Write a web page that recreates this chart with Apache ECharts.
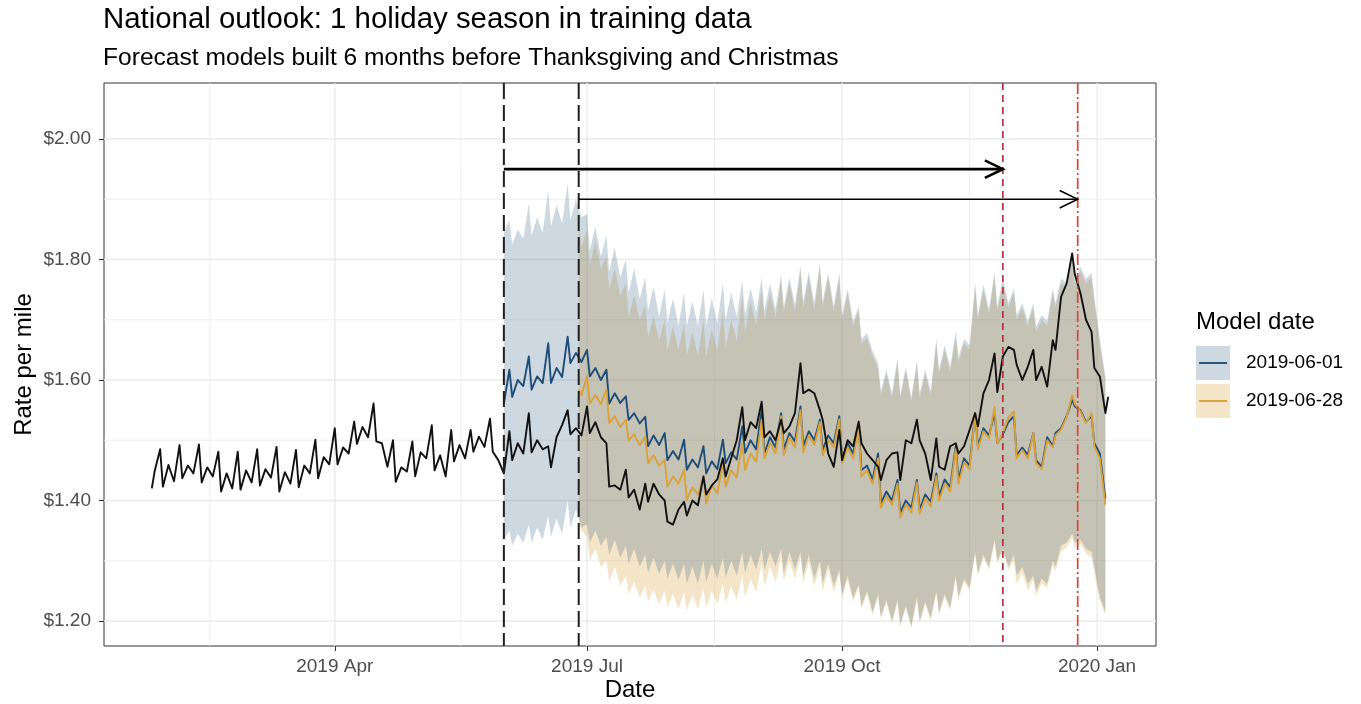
<!DOCTYPE html>
<html>
<head>
<meta charset="utf-8">
<title>National outlook</title>
<script src="https://cdn.jsdelivr.net/npm/echarts@6/dist/echarts.min.js"></script>
<style>
  html, body { margin: 0; padding: 0; background: #ffffff; }
  #chart { width: 1361px; height: 704px; }
</style>
</head>
<body>
<div id="chart"></div>
<script>
// ---------- axis breaks and labels ----------
const xBreaks = ['2019-04-01', '2019-07-01', '2019-10-01', '2020-01-01'];
const xBreakLabels = ['2019 Apr', '2019 Jul', '2019 Oct', '2020 Jan'];
const xMinorBreaks = ['2019-02-15', '2019-05-16T12:00', '2019-08-16', '2019-11-16'];
const yBreaks = [1.2, 1.4, 1.6, 1.8, 2.0];
const yBreakLabels = ['$1.20', '$1.40', '$1.60', '$1.80', '$2.00'];
const yMinorBreaks = [1.3, 1.5, 1.7, 1.9];

// ---------- reference events ----------
const modelDates = ['2019-06-01', '2019-06-28'];       // forecast model build dates
const holidayDates = ['2019-11-28', '2019-12-25'];     // Thanksgiving, Christmas
const arrowLevels = [1.95, 1.90];                      // rate level of each horizon arrow
const seriesNames = ['2019-06-01', '2019-06-28'];

// ---------- actual national rate ----------
// weekly rows starting Monday 2019-01-28: [Mon, Tue, Thu, Sat]
const actualLead = [['2019-01-25', 1.420], ['2019-01-26', 1.448]];
const actualRows = [
  [1.485, 1.423, 1.459, 1.432], [1.492, 1.437, 1.458, 1.445], [1.493, 1.430, 1.455, 1.440],
  [1.481, 1.415, 1.445, 1.420], [1.481, 1.418, 1.450, 1.430], [1.485, 1.425, 1.452, 1.438],
  [1.489, 1.415, 1.447, 1.428], [1.484, 1.422, 1.458, 1.445], [1.501, 1.437, 1.472, 1.460],
  [1.520, 1.460, 1.488, 1.478], [1.531, 1.494, 1.522, 1.505], [1.561, 1.498, 1.495, 1.456],
  [1.500, 1.431, 1.455, 1.448], [1.498, 1.440, 1.480, 1.470], [1.525, 1.450, 1.475, 1.440],
  [1.517, 1.465, 1.492, 1.470], [1.517, 1.481, 1.506, 1.489], [1.536, 1.481, 1.467, 1.445],
  [1.515, 1.467, 1.495, 1.478], [1.545, 1.480, 1.500, 1.485], [1.490, 1.455, 1.505, 1.525],
  [1.550, 1.510, 1.520, 1.508], [1.556, 1.512, 1.530, 1.505], [1.495, 1.423, 1.425, 1.418],
  [1.451, 1.405, 1.418, 1.385], [1.428, 1.398, 1.428, 1.410], [1.400, 1.365, 1.360, 1.385],
  [1.398, 1.375, 1.400, 1.392], [1.440, 1.410, 1.425, 1.435], [1.470, 1.440, 1.470, 1.500],
  [1.555, 1.500, 1.530, 1.520], [1.564, 1.505, 1.515, 1.500], [1.534, 1.512, 1.523, 1.545],
  [1.628, 1.578, 1.584, 1.578], [1.550, 1.534, 1.478, 1.456], [1.517, 1.467, 1.500, 1.490],
  [1.531, 1.495, 1.478, 1.467], [1.456, 1.434, 1.467, 1.478], [1.480, 1.434, 1.500, 1.495],
  [1.534, 1.500, 1.478, 1.434], [1.503, 1.456, 1.451, 1.490], [1.495, 1.478, 1.490, 1.517],
  [1.545, 1.523, 1.578, 1.600], [1.644, 1.580, 1.639, 1.655], [1.650, 1.625, 1.600, 1.622],
  [1.650, 1.600, 1.622, 1.589], [1.666, 1.650, 1.738, 1.760], [1.810, 1.775, 1.744, 1.700],
  [1.680, 1.620, 1.606, 1.545]
];
const actualTail = [['2020-01-05', 1.572]];

// ---------- forecast built 2019-06-01 ----------
// weekly rows starting Monday 2019-06-03: [Mon, Tue, Thu, Sat]
const fcJunLead = [['2019-06-01', 1.561]];
const fcJunRows = [
  [1.617, 1.572, 1.600, 1.590], [1.639, 1.584, 1.606, 1.595], [1.661, 1.595, 1.620, 1.605],
  [1.672, 1.628, 1.645, 1.630], [1.650, 1.606, 1.620, 1.600], [1.617, 1.561, 1.578, 1.562],
  [1.573, 1.534, 1.545, 1.528], [1.539, 1.490, 1.508, 1.492], [1.512, 1.467, 1.482, 1.468],
  [1.501, 1.451, 1.468, 1.455], [1.490, 1.445, 1.465, 1.452], [1.501, 1.462, 1.480, 1.468],
  [1.523, 1.479, 1.500, 1.485], [1.550, 1.478, 1.505, 1.488], [1.545, 1.485, 1.512, 1.498],
  [1.556, 1.490, 1.515, 1.500], [1.534, 1.484, 1.508, 1.495], [1.540, 1.470, 1.495, 1.478],
  [1.523, 1.450, 1.458, 1.435], [1.478, 1.395, 1.415, 1.400], [1.434, 1.380, 1.400, 1.388],
  [1.434, 1.385, 1.410, 1.398], [1.445, 1.407, 1.435, 1.422], [1.490, 1.435, 1.470, 1.458],
  [1.545, 1.490, 1.520, 1.508], [1.545, 1.495, 1.510, 1.530], [1.540, 1.475, 1.488, 1.476],
  [1.512, 1.467, 1.456, 1.505], [1.490, 1.512, 1.520, 1.540], [1.567, 1.556, 1.550, 1.530],
  [1.540, 1.495, 1.478, 1.403]
];
const upJunLead = [['2019-06-01', 1.845]];
const upJunRows = [
  [1.865, 1.825, 1.850, 1.835], [1.893, 1.840, 1.870, 1.845], [1.915, 1.855, 1.890, 1.860],
  [1.926, 1.865, 1.900, 1.870], [1.875, 1.815, 1.855, 1.805], [1.840, 1.780, 1.820, 1.770],
  [1.800, 1.745, 1.785, 1.735], [1.770, 1.715, 1.755, 1.705], [1.750, 1.695, 1.735, 1.690],
  [1.745, 1.690, 1.730, 1.690], [1.750, 1.690, 1.735, 1.695], [1.760, 1.700, 1.745, 1.705],
  [1.765, 1.708, 1.752, 1.712], [1.770, 1.715, 1.760, 1.718], [1.775, 1.722, 1.770, 1.725],
  [1.790, 1.730, 1.780, 1.728], [1.795, 1.730, 1.778, 1.722], [1.778, 1.708, 1.752, 1.698],
  [1.722, 1.668, 1.678, 1.648], [1.628, 1.582, 1.618, 1.578], [1.636, 1.576, 1.622, 1.572],
  [1.632, 1.578, 1.618, 1.582], [1.668, 1.618, 1.658, 1.622], [1.680, 1.638, 1.668, 1.658],
  [1.762, 1.708, 1.758, 1.718], [1.778, 1.722, 1.768, 1.728], [1.752, 1.708, 1.728, 1.698],
  [1.728, 1.688, 1.708, 1.698], [1.752, 1.728, 1.768, 1.762], [1.802, 1.768, 1.788, 1.768],
  [1.778, 1.738, 1.668, 1.605]
];
const loJunLead = [['2019-06-01', 1.335]];
const loJunRows = [
  [1.350, 1.325, 1.345, 1.330], [1.360, 1.330, 1.355, 1.335], [1.375, 1.340, 1.370, 1.345],
  [1.400, 1.355, 1.385, 1.355], [1.360, 1.330, 1.350, 1.325], [1.340, 1.310, 1.335, 1.305],
  [1.325, 1.295, 1.320, 1.290], [1.310, 1.280, 1.305, 1.278], [1.300, 1.270, 1.295, 1.268],
  [1.295, 1.262, 1.290, 1.262], [1.300, 1.265, 1.295, 1.270], [1.305, 1.272, 1.300, 1.275],
  [1.315, 1.280, 1.310, 1.285], [1.320, 1.285, 1.315, 1.290], [1.320, 1.280, 1.315, 1.285],
  [1.315, 1.275, 1.310, 1.270], [1.300, 1.262, 1.295, 1.258], [1.285, 1.245, 1.275, 1.238],
  [1.260, 1.225, 1.250, 1.215], [1.245, 1.208, 1.235, 1.200], [1.235, 1.195, 1.225, 1.192],
  [1.240, 1.200, 1.232, 1.205], [1.250, 1.215, 1.245, 1.222], [1.275, 1.240, 1.270, 1.255],
  [1.315, 1.280, 1.310, 1.290], [1.335, 1.300, 1.320, 1.290], [1.310, 1.275, 1.290, 1.262],
  [1.275, 1.250, 1.270, 1.262], [1.300, 1.290, 1.325, 1.330], [1.345, 1.330, 1.335, 1.320],
  [1.315, 1.290, 1.240, 1.215]
];

// ---------- forecast built 2019-06-28 ----------
// weekly rows starting Monday 2019-07-01: [Mon, Tue, Thu, Sat]
const fcLateLead = [['2019-06-28', 1.584], ['2019-06-29', 1.575]];
const fcLateRows = [
  [1.606, 1.561, 1.575, 1.560], [1.584, 1.528, 1.540, 1.522], [1.534, 1.500, 1.510, 1.492],
  [1.506, 1.462, 1.475, 1.458], [1.467, 1.423, 1.440, 1.428], [1.451, 1.401, 1.422, 1.410],
  [1.440, 1.395, 1.425, 1.412], [1.462, 1.423, 1.450, 1.438], [1.495, 1.451, 1.478, 1.465],
  [1.534, 1.470, 1.495, 1.478], [1.540, 1.475, 1.505, 1.488], [1.550, 1.480, 1.508, 1.492],
  [1.530, 1.475, 1.500, 1.488], [1.535, 1.462, 1.488, 1.470], [1.518, 1.440, 1.450, 1.428],
  [1.470, 1.388, 1.408, 1.393], [1.428, 1.372, 1.393, 1.380], [1.430, 1.378, 1.403, 1.390],
  [1.440, 1.400, 1.428, 1.415], [1.485, 1.428, 1.463, 1.452], [1.545, 1.485, 1.515, 1.503],
  [1.555, 1.495, 1.512, 1.538], [1.548, 1.470, 1.484, 1.470], [1.512, 1.462, 1.452, 1.500],
  [1.488, 1.508, 1.518, 1.538], [1.575, 1.560, 1.548, 1.528], [1.545, 1.490, 1.470, 1.393]
];
const upLateLead = [['2019-06-28', 1.860], ['2019-06-29', 1.820]];
const upLateRows = [
  [1.850, 1.790, 1.830, 1.785], [1.805, 1.750, 1.785, 1.740], [1.760, 1.705, 1.740, 1.700],
  [1.725, 1.670, 1.705, 1.665], [1.700, 1.650, 1.690, 1.650], [1.695, 1.640, 1.680, 1.640],
  [1.700, 1.640, 1.685, 1.650], [1.715, 1.655, 1.700, 1.665], [1.740, 1.680, 1.730, 1.690],
  [1.752, 1.700, 1.745, 1.705], [1.765, 1.712, 1.760, 1.715], [1.780, 1.720, 1.770, 1.718],
  [1.788, 1.722, 1.770, 1.715], [1.770, 1.700, 1.745, 1.690], [1.715, 1.660, 1.670, 1.640],
  [1.620, 1.575, 1.610, 1.570], [1.630, 1.570, 1.615, 1.565], [1.625, 1.570, 1.610, 1.575],
  [1.660, 1.610, 1.650, 1.615], [1.672, 1.630, 1.660, 1.650], [1.755, 1.700, 1.750, 1.710],
  [1.770, 1.715, 1.760, 1.720], [1.745, 1.700, 1.720, 1.690], [1.720, 1.680, 1.700, 1.690],
  [1.745, 1.720, 1.760, 1.755], [1.795, 1.760, 1.780, 1.760], [1.770, 1.730, 1.660, 1.600]
];
const loLateLead = [['2019-06-28', 1.360], ['2019-06-29', 1.350]];
const loLateRows = [
  [1.340, 1.300, 1.320, 1.290], [1.300, 1.265, 1.290, 1.258], [1.275, 1.245, 1.265, 1.238],
  [1.258, 1.232, 1.252, 1.228], [1.250, 1.222, 1.245, 1.220], [1.248, 1.218, 1.243, 1.220],
  [1.255, 1.222, 1.250, 1.228], [1.262, 1.230, 1.258, 1.235], [1.275, 1.240, 1.270, 1.248],
  [1.295, 1.258, 1.290, 1.265], [1.305, 1.265, 1.300, 1.270], [1.305, 1.262, 1.298, 1.258],
  [1.290, 1.250, 1.285, 1.248], [1.278, 1.238, 1.268, 1.232], [1.255, 1.220, 1.245, 1.210],
  [1.240, 1.203, 1.230, 1.196], [1.230, 1.190, 1.222, 1.188], [1.235, 1.196, 1.228, 1.200],
  [1.245, 1.210, 1.240, 1.218], [1.270, 1.235, 1.265, 1.250], [1.310, 1.275, 1.305, 1.285],
  [1.330, 1.295, 1.315, 1.285], [1.300, 1.262, 1.280, 1.250], [1.268, 1.242, 1.262, 1.255],
  [1.292, 1.282, 1.315, 1.322], [1.338, 1.322, 1.328, 1.312], [1.305, 1.280, 1.232, 1.210]
];

// ---------- helpers ----------
const DAY = 86400000;
const ts = s => Date.parse(s.length === 10 ? s + 'T00:00:00Z' : s + ':00Z');
const OFFSETS = [0, 1, 3, 5];   // Mon, Tue, Thu, Sat

function weekly(startMonday, rows, lead, tail) {
  const base = ts(startMonday);
  const out = (lead || []).map(([d, v]) => [ts(d), v]);
  rows.forEach((row, w) => row.forEach((v, j) => out.push([base + (7 * w + OFFSETS[j]) * DAY, v])));
  (tail || []).forEach(([d, v]) => out.push([ts(d), v]));
  return out;
}

const actual = weekly('2019-01-28', actualRows, actualLead, actualTail);
const fcJun = weekly('2019-06-03', fcJunRows, fcJunLead);
const upJun = weekly('2019-06-03', upJunRows, upJunLead);
const loJun = weekly('2019-06-03', loJunRows, loJunLead);
const fcLate = weekly('2019-07-01', fcLateRows, fcLateLead);
const upLate = weekly('2019-07-01', upLateRows, upLateLead);
const loLate = weekly('2019-07-01', loLateRows, loLateLead);

const X_MIN = ts('2019-01-07T18:00');
const X_MAX = ts('2020-01-22T06:00');
const Y_MIN = 1.1585;
const Y_MAX = 2.093;
const xBreakTs = xBreaks.map(ts);

const FONT = '"Liberation Sans", Arial, Helvetica, sans-serif';
const BLUE = '#1e4d78';
const GOLD = '#d9a23a';
const BLUE_FILL = 'rgba(30,77,120,0.22)';
const GOLD_FILL = 'rgba(217,162,58,0.28)';
const GRID = '#ebebeb';

// ribbon polygon through the axis scales
function ribbon(name, upper, lower, fill, z) {
  return {
    type: 'custom', name, coordinateSystem: 'cartesian2d', silent: true, z,
    data: [upper[0]],
    renderItem(params, api) {
      const pts = upper.map(p => api.coord(p))
        .concat(lower.slice().reverse().map(p => api.coord(p)));
      return { type: 'polygon', shape: { points: pts }, style: { fill } };
    }
  };
}

function line(name, data, color, z, width) {
  return {
    type: 'line', name, data, z, silent: true, showSymbol: false, symbol: 'none',
    lineStyle: { color, width, join: 'round' }
  };
}

const vlineStyles = [
  { date: modelDates[0], color: '#1f1f1f', width: 2, dash: [16, 6] },
  { date: modelDates[1], color: '#1f1f1f', width: 2, dash: [16, 6] },
  { date: holidayDates[0], color: '#b2323f', width: 1.7, dash: [7, 5] },
  { date: holidayDates[1], color: '#d8453b', width: 1.7, dash: [11, 3, 2, 3] }
];

const option = {
  backgroundColor: '#ffffff',
  animation: false,
  title: {
    text: 'National outlook: 1 holiday season in training data',
    subtext: 'Forecast models built 6 months before Thanksgiving and Christmas',
    left: 103, top: 5, padding: 0, itemGap: 12,
    textStyle: { fontFamily: FONT, fontSize: 29.4, fontWeight: 'normal', color: '#000' },
    subtextStyle: { fontFamily: FONT, fontSize: 24.6, color: '#000' }
  },
  grid: {
    left: 104, top: 83, width: 1052, height: 563,
    show: true, backgroundColor: '#ffffff', borderColor: '#333333', borderWidth: 1
  },
  xAxis: {
    type: 'value', min: X_MIN, max: X_MAX, scale: true,
    axisLine: { show: false },
    splitLine: { show: false },
    axisTick: { show: true, length: 5, lineStyle: { color: '#333333', width: 1 },
      customValues: xBreakTs },
    axisLabel: {
      customValues: xBreakTs, margin: 11, color: '#4d4d4d',
      fontFamily: FONT, fontSize: 19, showMinLabel: true, showMaxLabel: true,
      formatter: v => xBreakLabels[xBreakTs.indexOf(v)] || ''
    }
  },
  yAxis: {
    type: 'value', min: Y_MIN, max: Y_MAX,
    axisLine: { show: false },
    splitLine: { show: false },
    axisTick: { show: true, length: 5, lineStyle: { color: '#333333', width: 1 },
      customValues: yBreaks },
    axisLabel: {
      customValues: yBreaks, margin: 13, color: '#4d4d4d',
      fontFamily: FONT, fontSize: 19,
      formatter: v => yBreakLabels[yBreaks.findIndex(b => Math.abs(b - v) < 1e-9)] || ''
    }
  },
  series: [
    // panel grid
    {
      type: 'custom', coordinateSystem: 'cartesian2d', silent: true, z: 1,
      data: [[X_MIN, Y_MIN]],
      renderItem(params, api) {
        const kids = [];
        const v = (x, w) => {
          const a = api.coord([x, Y_MIN]), b = api.coord([x, Y_MAX]);
          kids.push({ type: 'line', shape: { x1: a[0], y1: a[1], x2: b[0], y2: b[1] },
            style: { stroke: GRID, lineWidth: w } });
        };
        const h = (y, w) => {
          const a = api.coord([X_MIN, y]), b = api.coord([X_MAX, y]);
          kids.push({ type: 'line', shape: { x1: a[0], y1: a[1], x2: b[0], y2: b[1] },
            style: { stroke: GRID, lineWidth: w } });
        };
        xMinorBreaks.forEach(d => v(ts(d), 0.8));
        yMinorBreaks.forEach(y => h(y, 0.8));
        xBreakTs.forEach(x => v(x, 1.4));
        yBreaks.forEach(y => h(y, 1.4));
        return { type: 'group', children: kids };
      }
    },
    ribbon(seriesNames[1] + ' interval', upLate, loLate, GOLD_FILL, 2),
    ribbon(seriesNames[0] + ' interval', upJun, loJun, BLUE_FILL, 3),
    line(seriesNames[0], fcJun, BLUE, 4, 1.9),
    line(seriesNames[1], fcLate, GOLD, 5, 1.9),
    line('Actual', actual, '#111111', 6, 1.9),
    // model dates and holidays
    {
      type: 'custom', coordinateSystem: 'cartesian2d', silent: true, z: 7,
      data: [[X_MIN, Y_MIN]],
      renderItem(params, api) {
        return {
          type: 'group',
          children: vlineStyles.map(s => {
            const a = api.coord([ts(s.date), Y_MAX]), b = api.coord([ts(s.date), Y_MIN]);
            return { type: 'line', shape: { x1: a[0], y1: a[1], x2: b[0], y2: b[1] },
              style: { stroke: s.color, lineWidth: s.width, lineDash: s.dash } };
          })
        };
      }
    },
    // six-month horizon arrows
    {
      type: 'custom', coordinateSystem: 'cartesian2d', silent: true, z: 8,
      data: [[X_MIN, Y_MIN]],
      renderItem(params, api) {
        const widths = [2.6, 1.5];
        const kids = [];
        modelDates.forEach((d, i) => {
          const a = api.coord([ts(d), arrowLevels[i]]);
          const b = api.coord([ts(holidayDates[i]), arrowLevels[i]]);
          const style = { stroke: '#000', lineWidth: widths[i], fill: null };
          kids.push({ type: 'line', shape: { x1: a[0], y1: a[1], x2: b[0], y2: b[1] }, style });
          const L = 20, ang = 26 * Math.PI / 180;
          const dx = L * Math.cos(ang), dy = L * Math.sin(ang);
          kids.push({ type: 'polyline',
            shape: { points: [[b[0] - dx, b[1] - dy], [b[0], b[1]], [b[0] - dx, b[1] + dy]] },
            style: { stroke: '#000', lineWidth: widths[i], fill: null } });
        });
        return { type: 'group', children: kids };
      }
    }
  ],
  graphic: [
    { type: 'text', x: 630, y: 690, style: { text: 'Date', fontFamily: FONT, fontSize: 24,
        fill: '#000', align: 'center', verticalAlign: 'middle' } },
    { type: 'text', x: 24, y: 364.5, rotation: Math.PI / 2,
      style: { text: 'Rate per mile', fontFamily: FONT, fontSize: 24,
        fill: '#000', align: 'center', verticalAlign: 'middle' } },
    { type: 'text', x: 1196, y: 322, style: { text: 'Model date', fontFamily: FONT, fontSize: 24,
        fill: '#000', align: 'left', verticalAlign: 'middle' } },
    { type: 'rect', shape: { x: 1196, y: 346, width: 34, height: 34 }, style: { fill: BLUE_FILL } },
    { type: 'line', shape: { x1: 1199, y1: 363, x2: 1227, y2: 363 }, style: { stroke: BLUE, lineWidth: 1.9 } },
    { type: 'text', x: 1246, y: 363, style: { text: seriesNames[0], fontFamily: FONT, fontSize: 19,
        fill: '#000', align: 'left', verticalAlign: 'middle' } },
    { type: 'rect', shape: { x: 1196, y: 384, width: 34, height: 34 }, style: { fill: GOLD_FILL } },
    { type: 'line', shape: { x1: 1199, y1: 401, x2: 1227, y2: 401 }, style: { stroke: GOLD, lineWidth: 1.9 } },
    { type: 'text', x: 1246, y: 401, style: { text: seriesNames[1], fontFamily: FONT, fontSize: 19,
        fill: '#000', align: 'left', verticalAlign: 'middle' } }
  ]
};

const chart = echarts.init(document.getElementById('chart'), null, { renderer: 'canvas' });
chart.setOption(option);
</script>
</body>
</html>
